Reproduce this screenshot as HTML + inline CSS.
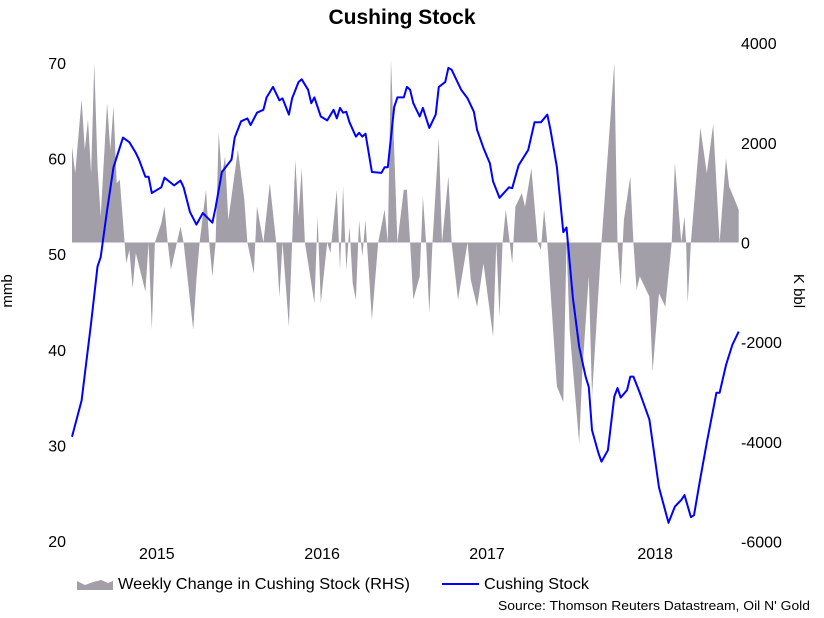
<!DOCTYPE html>
<html><head><meta charset="utf-8"><style>
body{margin:0;background:#fff;}
svg{display:block;font-family:"Liberation Sans",Arial,sans-serif;}
</style></head><body>
<svg id="chart" width="824" height="618" viewBox="0 0 824 618" xmlns="http://www.w3.org/2000/svg">
<rect width="824" height="618" fill="#fff"/>
<text x="402" y="24" text-anchor="middle" font-size="21" font-weight="bold">Cushing Stock</text>
<g id="area"></g>
<g id="line"></g>
<g id="axes"></g>
<text transform="translate(12,291) rotate(-90)" text-anchor="middle" font-size="15">mmb</text>
<text transform="translate(794,291) rotate(90)" text-anchor="middle" font-size="15">K bbl</text>
<g>
<polygon points="77,590 77,581 85,585 93,582 101,580 108,583 113,581 113,590" fill="#a39fa8"/>
<text x="118" y="589" font-size="16" textLength="292" lengthAdjust="spacingAndGlyphs">Weekly Change in Cushing Stock (RHS)</text>
<line x1="442" y1="584" x2="479" y2="584" stroke="#0000ff" stroke-width="2"/>
<text x="484" y="589" font-size="16" textLength="105" lengthAdjust="spacingAndGlyphs">Cushing Stock</text>
</g>
<text x="810" y="610" text-anchor="end" font-size="13" textLength="312" lengthAdjust="spacingAndGlyphs">Source: Thomson Reuters Datastream, Oil N' Gold</text>
</svg>
<script>
const stockWeeks=[0,3,6,8,9,11,13,16,18,20,21,23,24,25,28,29,32,34,35,37,39,41,44,45,47,50,51,53,55,56,58,60,61,63,65,66,68,69,71,72,74,75,76,78,80,82,83,84,85,86,87,89,90,91,92,94,97,98,99,101,102,104,105,106,107,109,110,112,114,115,117,118,119,122,124,126,127,129,131,132,134,137,138,140,143,145,147,149,150,152,154,155,157,159,161,162,163,165,166,168,170,171,172,174,175,176,178,181,184,187,189,191,192,194,195,197,199,202,203,205,207,209];
const stockValues=[30.9,34.7,42.8,48.7,49.7,54.6,59.1,62.2,61.7,60.6,59.9,58.1,58.1,56.4,57.0,58.0,57.2,57.7,57.0,54.4,53.1,54.3,53.3,54.9,58.6,59.9,62.2,63.9,64.2,63.5,64.8,65.1,66.4,67.5,66.1,66.3,64.6,66.3,68.0,68.3,67.2,65.8,66.4,64.4,64.0,65.1,64.2,65.3,64.8,64.9,63.8,62.3,62.7,62.3,62.6,58.6,58.5,59.1,59.1,65.4,66.4,66.4,67.5,67.2,65.8,64.4,65.3,63.2,64.6,67.5,68.0,69.5,69.3,67.2,66.3,64.9,63.0,61.1,59.5,57.6,55.9,57.0,56.9,59.3,60.9,63.8,63.8,64.6,63.0,59.1,52.3,52.8,45.5,40.3,37.2,36.1,31.6,29.2,28.3,29.5,35.1,36.0,35.0,35.8,37.2,37.2,35.5,32.7,25.6,21.9,23.6,24.3,24.8,22.5,22.7,26.6,30.3,35.5,35.5,38.4,40.5,41.9];
const changeWeeks=[0,1,3,4,5,6,7,8,9,11,12,13,14,15,16.5,17,18,19,20,23,24,25,26,28,29,30,31,34,35,38,39,40,42,43,44,45,46,47,48,49,52,54,55,57,58,60,62,64,65,66,68,69,70,71,72,73,76,77,78,80,81,83,84,85,86,87,88,89,90,91,92,94,96,98,99,100,101,102,104,105,106,107,109,110,111,112,113,115,116,118,119,121,124,125,127,129,132,133,134,135,136,138,139,141,142,144,146,147,148,149,152,154,155,156,159,160,162,163,166,170,171,172,173,175,176,177,178,181,182,184,186,188,189,191,192,192.5,193,194,197,199,201,203,205,206,209];
const changeValues=[1930,1390,2870,1860,2470,1390,3600,1530,520,2800,1860,2730,1190,1260,0,-420,-150,-920,-210,-985,0,-1750,0,390,720,0,-550,320,0,-1750,-750,0,1060,0,-680,0,2200,1330,1730,450,1860,860,0,-620,720,0,1190,0,-1090,0,-1690,0,1660,520,1490,0,-1220,520,-1220,0,-210,1060,-550,1130,-550,320,-820,-1150,450,-280,450,-1550,0,660,0,3670,1860,0,1060,1060,0,-1150,-680,920,0,-1420,0,2100,0,1330,0,-1150,0,-750,-1290,-420,-1890,0,-1490,0,660,-420,720,990,720,1490,0,-150,660,0,-2890,-3200,0,-1750,-4030,-2560,-680,-3090,0,3600,0,-880,450,1330,0,-950,-680,-1090,-2590,-1020,-1290,0,1590,0,520,0,-1220,0,2300,1390,2370,0,1690,1130,660];
const leftTicks=[70,60,50,40,30,20];
const rightTicks=[4000,2000,0,-2000,-4000,-6000];
const yearLabels=["2015","2016","2017","2018"];
const yearWeeks=[26.6,78.4,130.1,182.8];

const NS="http://www.w3.org/2000/svg";
function xScale(w){return 72+w*3.19;}
function yLeft(v){return 63+(70-v)*9.56;}
function yRight(v){return 242.5-v*0.04985;}
function mk(tag,attrs,parent){const e=document.createElementNS(NS,tag);for(const k in attrs)e.setAttribute(k,attrs[k]);parent.appendChild(e);return e;}

const areaG=document.getElementById('area');
let pts=[xScale(changeWeeks[0])+","+yRight(0)];
for(let i=0;i<changeWeeks.length;i++)pts.push(xScale(changeWeeks[i]).toFixed(1)+","+yRight(changeValues[i]).toFixed(1));
pts.push(xScale(changeWeeks[changeWeeks.length-1])+","+yRight(0));
const poly=mk('polygon',{points:pts.join(' '),fill:'#a39fa8'},areaG);



const lineG=document.getElementById('line');
let d=stockWeeks.map((w,i)=>(i?'L':'M')+xScale(w).toFixed(1)+','+yLeft(stockValues[i]).toFixed(1)).join(' ');
const path=mk('path',{d:d,fill:'none',stroke:'#0000ff','stroke-width':2,'stroke-linejoin':'round'},lineG);



const axG=document.getElementById('axes');
leftTicks.forEach(v=>{
  const t=mk('text',{x:66,y:yLeft(v)+6,'text-anchor':'end','font-size':16},axG);
  t.textContent=v;
  
  
});
rightTicks.forEach(v=>{
  const t=mk('text',{x:741,y:yRight(v)+6,'text-anchor':'start','font-size':16},axG);
  t.textContent=v;
  
  
});
yearLabels.forEach((s,i)=>{
  const t=mk('text',{x:xScale(yearWeeks[i]),y:559,'text-anchor':'middle','font-size':16},axG);
  t.textContent=s;
  
  
});
</script>
</body></html>
